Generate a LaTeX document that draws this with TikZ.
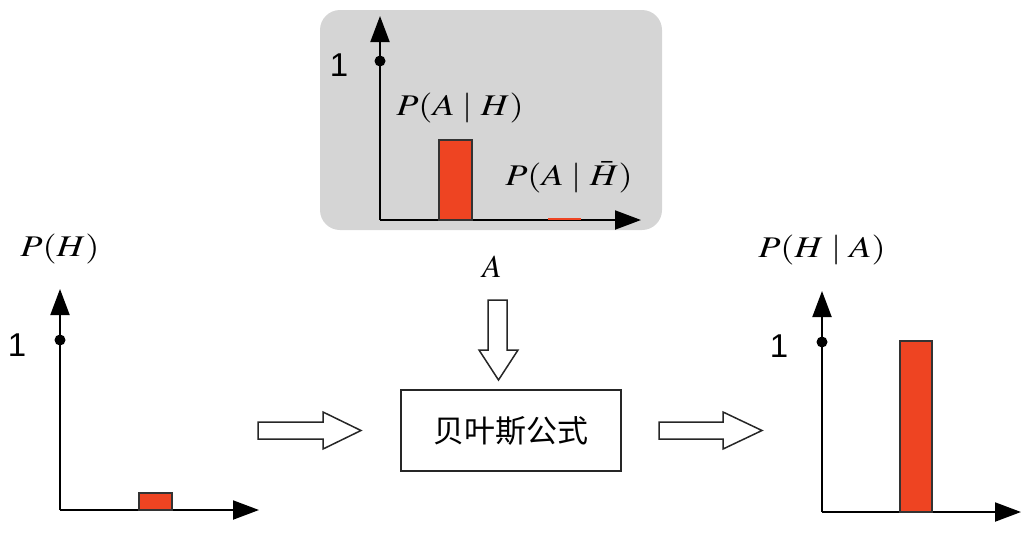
\documentclass[tikz,border=0pt]{standalone}
\usepackage{mathptmx}
\usepackage[no-math]{fontspec}
\setmainfont{Liberation Serif}
\newfontfamily\arialf{Liberation Sans}
\newfontfamily\cjk{Noto Sans CJK SC}
\usetikzlibrary{arrows.meta}
\definecolor{barred}{HTML}{EE4422}
\definecolor{panelgray}{HTML}{D5D5D5}
\tikzset{
  axis/.style={line width=2pt,-{Triangle[length=26pt,width=19pt]}},
  bar/.style={fill=barred,draw=black!80,line width=1.5pt},
  one/.style={font=\arialf\fontsize{33}{36}\selectfont,inner sep=0pt},
  lbl/.style={font=\fontsize{30}{34}\selectfont,inner sep=0pt,xscale=1.21},
  albl/.style={font=\fontsize{32}{36}\selectfont,inner sep=0pt},
  dotm/.style={circle,fill=black,inner sep=0pt,minimum size=11pt},
  fat/.style={draw=black!85,line width=1.5pt,fill=white,line join=miter},
  formula/.style={draw=black!85,line width=1.5pt,minimum width=220pt,minimum height=81pt,font=\cjk\fontsize{31}{36}\selectfont,inner sep=0pt}
}
\begin{document}
\begin{tikzpicture}[x=1pt,y=-1pt]
\useasboundingbox (0,0) rectangle (1035,542);
% gray panel
\node[fill=panelgray,rounded corners=20pt,minimum width=342pt,minimum height=220pt,inner sep=0pt] (panel) at (491,120) {};
% top chart
\coordinate (to) at (380,220);
\draw[axis] (to) -- (380,16);
\draw[axis] (to) -- (641,220);
\node[dotm] (tdot) at (380,61) {};
\node[one] (tone) at (339,65) {1};
\draw[bar] (439,140) rectangle (472,220);
\draw[barred,line width=2pt] (548,219) -- (581,219);
\node[lbl] (pah) at (460,108) {$P(A\mid H)$};
\node[lbl] (pahb) at (569,177) {$P(A\mid \bar{H})$};
% left chart
\coordinate (lo) at (60,510);
\draw[axis] (lo) -- (60,289);
\draw[axis] (lo) -- (259,510);
\node[dotm] (ldot) at (60,340) {};
\node[one] (lone) at (17,345) {1};
\draw[bar] (139,493) rectangle (172,510);
\node[lbl] (ph) at (60,249) {$P(H)$};
% right chart
\coordinate (ro) at (822,512);
\draw[axis] (ro) -- (822,291);
\draw[axis] (ro) -- (1021,512);
\node[dotm] (rdot) at (822,342) {};
\node[one] (rone) at (779,346) {1};
\draw[bar] (900,341) rectangle (932,512);
\node[lbl] (pha) at (822,250) {$P(H\mid A)$};
% formula box
\node[formula] (bayes) at (511,430.5) {贝叶斯公式};
\node[albl] (A) at (492,267) {$A$};
% block arrows
\draw[fat] (488,300) -- (507,300) -- (507,350) -- (518,350) -- (498.5,380) -- (479,350) -- (488,350) -- cycle;
\draw[fat] (258,422) -- (323,422) -- (323,412) -- (361,430.5) -- (323,449) -- (323,439) -- (258,439) -- cycle;
\draw[fat] (659,422) -- (723,422) -- (723,412) -- (762,430.5) -- (723,449) -- (723,439) -- (659,439) -- cycle;
\end{tikzpicture}
\end{document}
